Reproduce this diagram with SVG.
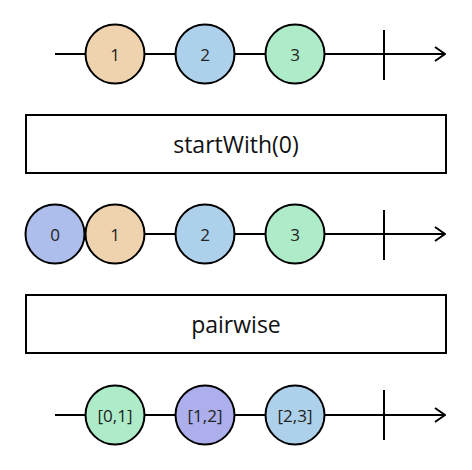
<svg xmlns="http://www.w3.org/2000/svg" width="472" height="470" viewBox="0 0 472 470">
<defs>
<style>
.line{stroke:#000;stroke-width:2;fill:none}
.m{stroke:#000;stroke-width:2}
.t{font-family:"Open Sans","Noto Sans",sans-serif;font-size:17px;fill:#222;text-anchor:middle;dominant-baseline:central}
.b{fill:#fff;stroke:#000;stroke-width:2}
.bt{font-family:"Open Sans","Noto Sans",sans-serif;font-size:23px;fill:#111;text-anchor:middle;dominant-baseline:central}
.t2{font-size:17px}
</style>
<marker id="arr" viewBox="0 0 12 16" refX="11" refY="8" markerWidth="12" markerHeight="16" markerUnits="userSpaceOnUse" orient="auto">
<path d="M1,1 L11,8 L1,15" fill="none" stroke="#000" stroke-width="2"/>
</marker>
</defs>
<g id="connectors">
<line class="line" x1="55" y1="54" x2="445" y2="54" marker-end="url(#arr)"/>
<line class="line" x1="384" y1="30" x2="384" y2="80"/>
<line class="line" x1="55" y1="234" x2="445" y2="234" marker-end="url(#arr)"/>
<line class="line" x1="384" y1="210" x2="384" y2="260"/>
<line class="line" x1="55" y1="415" x2="445" y2="415" marker-end="url(#arr)"/>
<line class="line" x1="384" y1="390" x2="384" y2="440"/>
</g>
<g id="n1a"><circle class="m" cx="115" cy="54" r="29.5" fill="#eed3ae"/><text class="t" x="115" y="54">1</text></g>
<g id="n2a"><circle class="m" cx="205" cy="54" r="29.5" fill="#aed1eb"/><text class="t" x="205" y="54">2</text></g>
<g id="n3a"><circle class="m" cx="295" cy="54" r="29.5" fill="#aeebc8"/><text class="t" x="295" y="54">3</text></g>
<g id="op1"><rect class="b" x="26" y="115" width="420" height="58"/><text class="bt" x="236" y="144">startWith(0)</text></g>
<g id="n0b"><circle class="m" cx="55" cy="234" r="29.5" fill="#adbdec"/><text class="t" x="55" y="234">0</text></g>
<g id="n1b"><circle class="m" cx="115" cy="234" r="29.5" fill="#eed3ae"/><text class="t" x="115" y="234">1</text></g>
<g id="n2b"><circle class="m" cx="205" cy="234" r="29.5" fill="#aed1eb"/><text class="t" x="205" y="234">2</text></g>
<g id="n3b"><circle class="m" cx="295" cy="234" r="29.5" fill="#aeebc8"/><text class="t" x="295" y="234">3</text></g>
<g id="op2"><rect class="b" x="26" y="295" width="420" height="58"/><text class="bt" x="236" y="324">pairwise</text></g>
<g id="p01"><circle class="m" cx="115" cy="415" r="29.5" fill="#aeebc8"/><text class="t t2" x="115" y="415">[0,1]</text></g>
<g id="p12"><circle class="m" cx="205" cy="415" r="29.5" fill="#adaeec"/><text class="t t2" x="205" y="415">[1,2]</text></g>
<g id="p23"><circle class="m" cx="295" cy="415" r="29.5" fill="#aed1eb"/><text class="t t2" x="295" y="415">[2,3]</text></g>
</svg>
